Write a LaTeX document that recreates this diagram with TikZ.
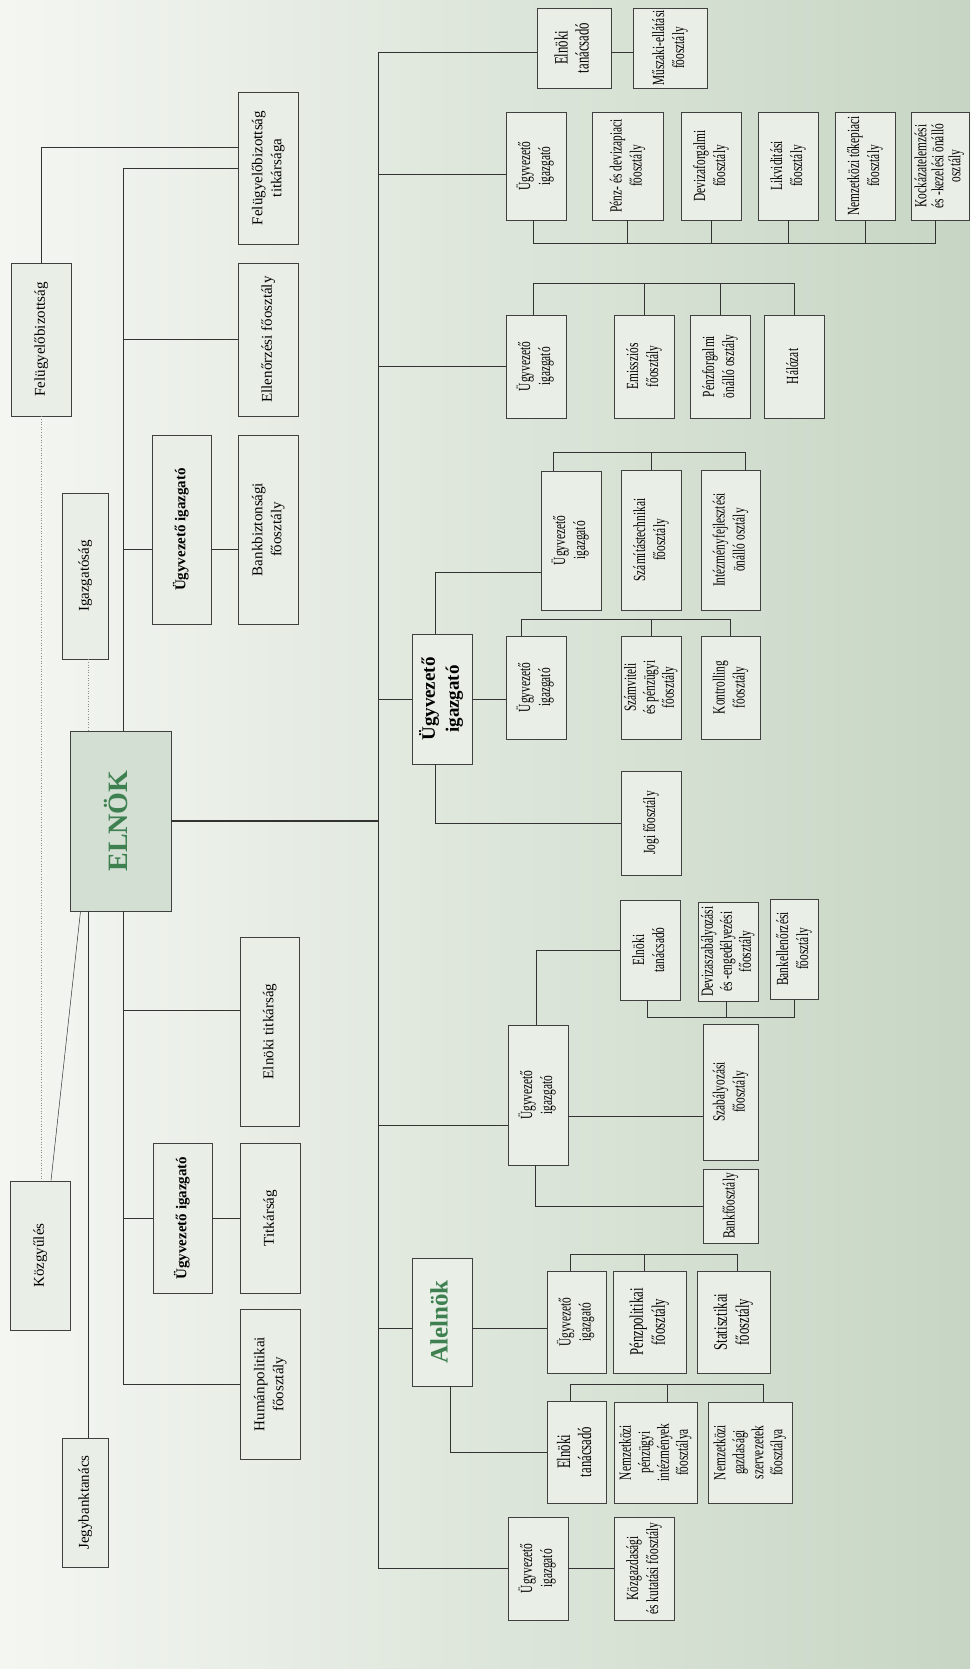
\documentclass[tikz,border=0pt]{standalone}
\usepackage{graphicx}
\usepackage{fontspec}
\setmainfont{Liberation Serif}
\newfontfamily\narrowserif{Liberation Serif}[FakeStretch=0.67]
\usepackage{tikz}

\definecolor{boxfill}{HTML}{E9EFE7}
\definecolor{chieffill}{HTML}{D3DFD3}
\definecolor{mnbgreen}{HTML}{3E8050}
\definecolor{bgleft}{HTML}{F4F6F2}
\definecolor{bgright}{HTML}{C7D6C4}

% text standing on its side
\newcommand{\vt}[1]{\rotatebox{90}{\begin{tabular}{@{}c@{}}#1\end{tabular}}}

\tikzset{
    box/.style={draw=black!75, fill=boxfill, inner sep=0pt, line width=0.7pt,
        font=\fontsize{15}{19}\selectfont},
    nbox/.style={box, font=\narrowserif\fontsize{17}{20}\selectfont},
    bbox/.style={box, font=\bfseries\fontsize{15}{19}\selectfont},
    link/.style={draw=black!80, line width=0.7pt},
    loose/.style={draw=black!45, line width=0.6pt, dotted}
}

\begin{document}
\begin{tikzpicture}[x=1pt, y=-1pt]
    \useasboundingbox (0,0) rectangle (970,1669);
    \shade[left color=bgleft, right color=bgright] (0,0) rectangle (970,1669);

    % left side
    \node[box, minimum width=60, minimum height=153] (fb) at (41,339.5) {\vt{Felügyelőbizottság}};
    \node[box, minimum width=60, minimum height=152] (fbt) at (268,168) {\vt{Felügyelőbizottság\\titkársága}};
    \node[box, minimum width=60, minimum height=153] (ell) at (268,339.5) {\vt{Ellenőrzési főosztály}};
    \node[bbox, minimum width=59, minimum height=189] (ui1) at (181.5,529.5) {\vt{Ügyvezető igazgató}};
    \node[box, minimum width=60, minimum height=189] (bbf) at (268,529.5) {\vt{Bankbiztonsági\\főosztály}};
    \node[box, minimum width=46, minimum height=166] (igaz) at (85,576) {\vt{Igazgatóság}};
    \node[box, fill=chieffill, minimum width=101, minimum height=180,
        font=\bfseries\fontsize{28}{30}\selectfont, text=mnbgreen] (elnok) at (120.5,821) {\vt{ELNÖK}};
    \node[box, minimum width=59, minimum height=189] (eltit) at (269.5,1031.5) {\vt{Elnöki titkárság}};
    \node[bbox, minimum width=59, minimum height=150] (ui2) at (182.5,1218) {\vt{Ügyvezető igazgató}};
    \node[box, minimum width=60, minimum height=150] (titk) at (270,1218) {\vt{Titkárság}};
    \node[box, minimum width=60, minimum height=150] (hum) at (270,1384) {\vt{Humánpolitikai\\főosztály}};
    \node[box, minimum width=60, minimum height=149] (kgy) at (40,1255.5) {\vt{Közgyűlés}};
    \node[box, minimum width=46, minimum height=129] (jbt) at (85,1502.5) {\vt{Jegybanktanács}};

    \coordinate (lspine) at (123,0);
    \draw[link] (fb.north) |- ([yshift=21pt]fbt.west);
    \draw[link] (fbt.west) -| (lspine |- elnok.north);
    \draw[link] (ell.west -| lspine) -- (ell.west);
    \draw[link] ([yshift=-20pt]ui1.west -| lspine) -- ([yshift=-20pt]ui1.west);
    \draw[link] ([yshift=-20pt]ui1.east) -- ([yshift=-20pt]ui1.east -| bbf.west);
    \draw[link] (lspine |- elnok.south) |- (hum.west);
    \draw[link] ([yshift=21pt]eltit.west -| lspine) -- ([yshift=21pt]eltit.west);
    \draw[link] (ui2.west -| lspine) -- (ui2.west) (ui2.east) -- (titk.west);
    \draw[loose] (fb.south) -- (fb.south |- kgy.north);
    \draw[loose] ([xshift=3pt]igaz.south) -- ([xshift=3pt]igaz.south |- elnok.north);
    \draw[link, line width=0.5pt] ([xshift=11pt]kgy.north) -- ([xshift=-40pt]elnok.south);
    \draw[link] ([xshift=3pt]jbt.north) -- ([xshift=3pt]jbt.north |- elnok.south);

    % right side
    \node[nbox, minimum width=74, minimum height=80, font=\narrowserif\fontsize{19}{21}\selectfont] (et1) at (574,48) {\vt{Elnöki\\tanácsadó}};
    \node[nbox, minimum width=74, minimum height=80] (msz) at (670,48) {\vt{Műszaki-ellátási\\főosztály}};

    \node[nbox, minimum width=60, minimum height=108] (ui3) at (536,166) {\vt{Ügyvezető\\igazgató}};
    \node[nbox, minimum width=71, minimum height=108] (pdp) at (627.5,166) {\vt{Pénz- és devizapiaci\\főosztály}};
    \node[nbox, minimum width=60, minimum height=108] (dev) at (711,166) {\vt{Devizaforgalmi\\főosztály}};
    \node[nbox, minimum width=60, minimum height=108] (lik) at (788,166) {\vt{Likviditási\\főosztály}};
    \node[nbox, minimum width=60, minimum height=108] (ntp) at (865,166) {\vt{Nemzetközi tőkepiaci\\főosztály}};
    \node[nbox, minimum width=58, minimum height=108, font=\narrowserif\fontsize{17}{17}\selectfont] (kock) at (940,166) {\vt{Kockázatelemzési\\és -kezelési önálló\\osztály}};

    \node[nbox, minimum width=60, minimum height=103] (ui4) at (536,366.5) {\vt{Ügyvezető\\igazgató}};
    \node[nbox, minimum width=60, minimum height=103] (emi) at (644,366.5) {\vt{Emissziós\\főosztály}};
    \node[nbox, minimum width=60, minimum height=103] (pfo) at (720,366.5) {\vt{Pénzforgalmi\\önálló osztály}};
    \node[nbox, minimum width=60, minimum height=103] (hal) at (794,366.5) {\vt{Hálózat}};

    \node[bbox, minimum width=60, minimum height=130, font=\bfseries\fontsize{19}{24}\selectfont] (ugy) at (442,699) {\vt{Ügyvezető\\igazgató}};
    \node[nbox, minimum width=60, minimum height=139] (ui5) at (571,540.5) {\vt{Ügyvezető\\igazgató}};
    \node[nbox, minimum width=60, minimum height=140] (szt) at (651,540) {\vt{Számítástechnikai\\főosztály}};
    \node[nbox, minimum width=59, minimum height=140] (int) at (730.5,540) {\vt{Intézményfejlesztési\\önálló osztály}};
    \node[nbox, minimum width=60, minimum height=103] (ui6) at (536,687.5) {\vt{Ügyvezető\\igazgató}};
    \node[nbox, minimum width=60, minimum height=103, font=\narrowserif\fontsize{17}{19}\selectfont] (szv) at (651,687.5) {\vt{Számviteli\\és pénzügyi\\főosztály}};
    \node[nbox, minimum width=59, minimum height=103] (kon) at (730.5,687.5) {\vt{Kontrolling\\főosztály}};
    \node[nbox, minimum width=60, minimum height=104] (jogi) at (651,823) {\vt{Jogi főosztály}};

    \node[nbox, minimum width=60, minimum height=140] (ui7) at (538,1095) {\vt{Ügyvezető\\igazgató}};
    \node[nbox, minimum width=60, minimum height=100] (et2) at (650,950) {\vt{Elnöki\\tanácsadó}};
    \node[nbox, minimum width=60, minimum height=99, font=\narrowserif\fontsize{17}{19}\selectfont] (dsz) at (728,951.5) {\vt{Devizaszabályozási\\és -engedélyezési\\főosztály}};
    \node[nbox, minimum width=48, minimum height=100] (bke) at (794,949) {\vt{Bankellenőrzési\\főosztály}};
    \node[nbox, minimum width=55, minimum height=136] (szab) at (730.5,1092) {\vt{Szabályozási\\főosztály}};
    \node[nbox, minimum width=55, minimum height=74] (bank) at (730.5,1206) {\vt{Bankfőosztály}};

    \node[box, minimum width=60, minimum height=128, text=mnbgreen,
        font=\bfseries\fontsize{25}{28}\selectfont] (alel) at (442,1322) {\vt{Alelnök}};
    \node[nbox, minimum width=59, minimum height=102] (ua1) at (576.5,1322) {\vt{Ügyvezető\\igazgató}};
    \node[nbox, minimum width=73, minimum height=102, font=\narrowserif\fontsize{19}{22}\selectfont] (ppf) at (649.5,1322) {\vt{Pénzpolitikai\\főosztály}};
    \node[nbox, minimum width=73, minimum height=102, font=\narrowserif\fontsize{19}{22}\selectfont] (stat) at (733.5,1322) {\vt{Statisztikai\\főosztály}};
    \node[nbox, minimum width=59, minimum height=102, font=\narrowserif\fontsize{19}{21}\selectfont] (et3) at (576.5,1452) {\vt{Elnöki\\tanácsadó}};
    \node[nbox, minimum width=83, minimum height=101, font=\narrowserif\fontsize{17}{19}\selectfont] (npi) at (655.5,1452.5) {\vt{Nemzetközi\\pénzügyi\\intézmények\\főosztálya}};
    \node[nbox, minimum width=84, minimum height=101, font=\narrowserif\fontsize{17}{19}\selectfont] (ngs) at (750,1452.5) {\vt{Nemzetközi\\gazdasági\\szervezetek\\főosztálya}};

    \node[nbox, minimum width=60, minimum height=103] (ui8) at (538,1568.5) {\vt{Ügyvezető\\igazgató}};
    \node[nbox, minimum width=60, minimum height=103] (kkf) at (644,1568.5) {\vt{Közgazdasági\\és kutatási főosztály}};

    % main spine
    \coordinate (trunk) at (378,0);
    \draw[link] ([yshift=-4pt]trunk |- et1.west) -- (trunk |- ui8.west);
    \draw[link, line width=1.4pt] (elnok.east) -- (elnok.east -| trunk);
    \draw[link] ([yshift=-4pt]trunk |- et1.west) -- ([yshift=-4pt]et1.west);
    \draw[link] ([yshift=-4pt]et1.east) -- ([yshift=-4pt]msz.west);
    \draw[link] ([yshift=-8pt]ui3.west -| trunk) -- ([yshift=-8pt]ui3.west);
    \draw[link] (ui4.west -| trunk) -- (ui4.west);
    \draw[link] (ugy.west -| trunk) -- (ugy.west);
    \draw[link] ([yshift=-30pt]ui7.west -| trunk) -- ([yshift=-30pt]ui7.west);
    \draw[link] ([yshift=-6pt]alel.west -| trunk) -- ([yshift=-6pt]alel.west);
    \draw[link] (ui8.west -| trunk) -- (ui8.west) (ui8.east) -- (kkf.west);

    % buses
    \coordinate (bus2) at (0,243);
    \draw[link] ([xshift=-3pt]ui3.south) |- ([xshift=-5pt]bus2 -| kock.south) -- ([xshift=-5pt]kock.south);
    \foreach \n in {pdp,dev,lik,ntp}
        \draw[link] (\n.south) -- (\n.south |- bus2);

    \coordinate (bus3) at (0,283);
    \draw[link] ([xshift=-3pt]ui4.north) |- (bus3 -| hal.north) -- (hal.north);
    \foreach \n in {emi,pfo}
        \draw[link] (\n.north) -- (\n.north |- bus3);

    \coordinate (bus4) at (0,452);
    \draw[link] ([xshift=-7pt]ugy.north) |- ([yshift=-32pt]ui5.west);
    \draw[link] ([xshift=-18pt]ui5.north) |- ([xshift=15pt]bus4 -| int.north) -- ([xshift=15pt]int.north);
    \draw[link] (szt.north) -- (szt.north |- bus4);

    \coordinate (bus5) at (0,619);
    \draw[link] (ugy.east) -- (ugy.east -| ui6.west);
    \draw[link] ([xshift=-15pt]ui6.north) |- (bus5 -| kon.north) -- (kon.north);
    \draw[link] (szv.north) -- (szv.north |- bus5);
    \draw[link] ([xshift=-7pt]ugy.south) |- (jogi.west);

    \coordinate (bus6) at (0,1017);
    \draw[link] ([xshift=-2pt]ui7.north) |- (et2.west);
    \draw[link] ([xshift=-3pt]et2.south) |- (bus6 -| bke.south) -- (bke.south);
    \draw[link] ([xshift=-2pt]dsz.south) -- ([xshift=-2pt]dsz.south |- bus6);
    \draw[link] ([yshift=-21pt]ui7.east) -- ([yshift=-21pt]ui7.east -| szab.west);
    \draw[link] ([xshift=-3pt]ui7.south) |- (bank.west);

    \coordinate (bus7) at (0,1254);
    \draw[link] ([yshift=-6pt]alel.east) -- ([yshift=-6pt]alel.east -| ua1.west);
    \draw[link] ([xshift=-6pt]ua1.north) |- ([xshift=4pt]bus7 -| stat.north) -- ([xshift=4pt]stat.north);
    \draw[link] ([xshift=-5pt]ppf.north) -- ([xshift=-5pt]ppf.north |- bus7);

    \coordinate (bus8) at (0,1384);
    \draw[link] ([xshift=8pt]alel.south) |- (et3.west);
    \draw[link] ([xshift=-6pt]et3.north) |- ([xshift=13pt]bus8 -| ngs.north) -- ([xshift=13pt]ngs.north);
    \draw[link] ([xshift=12pt]npi.north) -- ([xshift=12pt]npi.north |- bus8);
\end{tikzpicture}
\end{document}
